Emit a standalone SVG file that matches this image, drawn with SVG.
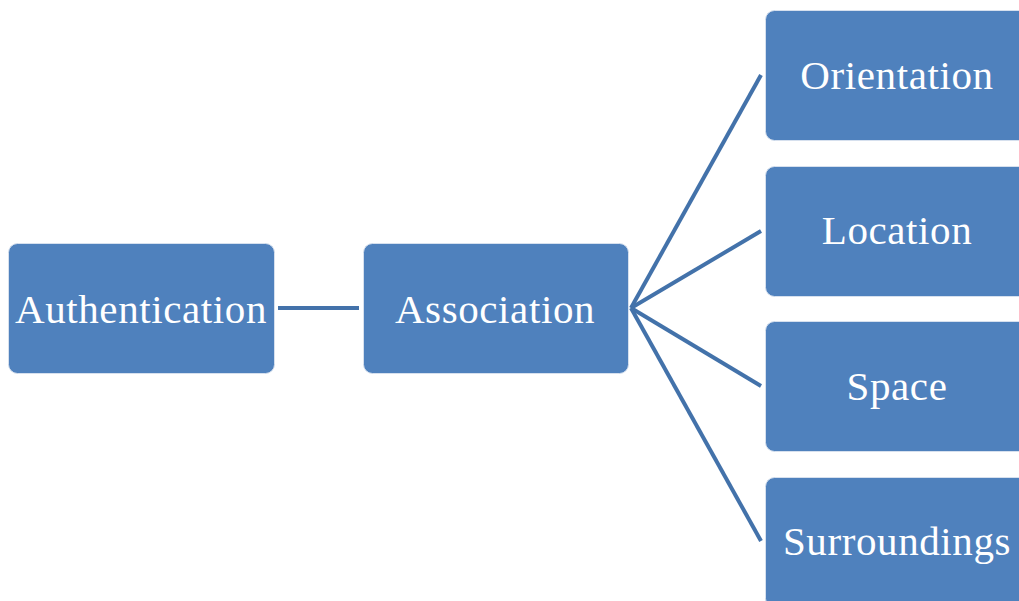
<svg xmlns="http://www.w3.org/2000/svg" width="1019" height="601" viewBox="0 0 1019 601">
  <style>
    .box { fill: #4f81bd; stroke: #d6e0ee; stroke-width: 1; }
    .label { font-family: "Liberation Serif", "Times New Roman", serif; font-size: 41px; letter-spacing: 0.6px; fill: #ffffff; text-anchor: middle; }
    .link { stroke: #4372aa; stroke-width: 4; stroke-linecap: butt; fill: none; }
  </style>
  <rect width="1019" height="601" fill="#ffffff"/>

  <g id="connectors">
    <line class="link" x1="278" y1="308" x2="359" y2="308"/>
    <line class="link" x1="631" y1="308" x2="761" y2="75"/>
    <line class="link" x1="631" y1="308" x2="761" y2="231"/>
    <line class="link" x1="631" y1="308" x2="761" y2="386"/>
    <line class="link" x1="631" y1="308" x2="761" y2="541"/>
  </g>

  <g id="authentication">
    <rect class="box" x="8.5" y="243.5" width="266" height="130" rx="9"/>
    <text class="label" x="141" y="323">Authentication</text>
  </g>

  <g id="association">
    <rect class="box" x="363.5" y="243.5" width="265" height="130" rx="9"/>
    <text class="label" x="495" y="323">Association</text>
  </g>

  <g id="orientation">
    <rect class="box" x="765.5" y="10.5" width="270" height="130" rx="9"/>
    <text class="label" x="897" y="89">Orientation</text>
  </g>

  <g id="location">
    <rect class="box" x="765.5" y="166.5" width="270" height="130" rx="9"/>
    <text class="label" x="897" y="244">Location</text>
  </g>

  <g id="space">
    <rect class="box" x="765.5" y="321.5" width="270" height="130" rx="9"/>
    <text class="label" x="897" y="400">Space</text>
  </g>

  <g id="surroundings">
    <rect class="box" x="765.5" y="477.5" width="270" height="130" rx="9"/>
    <text class="label" x="897" y="555">Surroundings</text>
  </g>
</svg>
